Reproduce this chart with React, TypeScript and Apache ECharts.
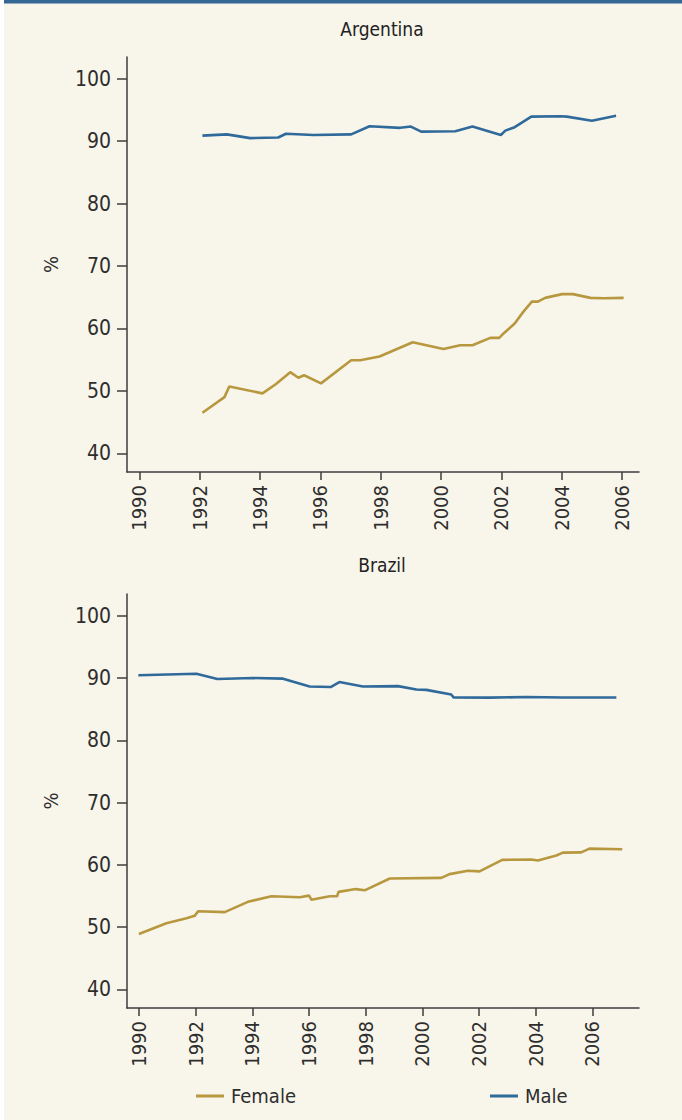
import React, { useEffect, useRef } from "react";
import * as echarts from "echarts";

// ---------- data ----------
const xTickYears = [1990, 1992, 1994, 1996, 1998, 2000, 2002, 2004, 2006];
const yTickValues = [40, 50, 60, 70, 80, 90, 100];
const panelTitles = ["Argentina", "Brazil"];
const seriesNames = ["Female", "Male"];

const argentinaFemale: [number, number][] = [
  [1992.09, 46.5], [1992.82, 49.0], [1992.98, 50.7], [1994.08, 49.6], [1994.53, 51.1],
  [1995.0, 53.0], [1995.27, 52.1], [1995.46, 52.5], [1996.02, 51.2], [1997.02, 54.9],
  [1997.32, 54.9], [1997.96, 55.5], [1999.06, 57.8], [2000.08, 56.7], [2000.63, 57.3],
  [2001.04, 57.3], [2001.63, 58.5], [2001.93, 58.5], [2002.07, 59.2], [2002.44, 60.8],
  [2002.73, 62.7], [2003.01, 64.3], [2003.21, 64.3], [2003.45, 64.9], [2004.01, 65.5],
  [2004.37, 65.5], [2004.95, 64.9], [2005.39, 64.85], [2006.05, 64.9],
];
const argentinaMale: [number, number][] = [
  [1992.09, 90.9], [1992.9, 91.1], [1993.67, 90.5], [1994.6, 90.6], [1994.86, 91.2],
  [1995.77, 91.0], [1997.02, 91.1], [1997.63, 92.4], [1998.64, 92.15], [1999.0, 92.35],
  [1999.34, 91.55], [2000.47, 91.6], [2001.04, 92.35], [2001.98, 91.0], [2002.13, 91.7],
  [2002.44, 92.25], [2002.99, 93.95], [2003.95, 94.0], [2004.17, 93.95], [2005.0, 93.27],
  [2005.8, 94.07],
];
const brazilFemale: [number, number][] = [
  [1989.99, 48.9], [1990.96, 50.6], [1991.67, 51.4], [1991.96, 51.8], [1992.08, 52.55],
  [1993.02, 52.4], [1993.84, 54.05], [1994.67, 54.95], [1995.67, 54.8], [1996.0, 55.05],
  [1996.08, 54.4], [1996.73, 54.95], [1996.99, 54.95], [1997.04, 55.65], [1997.65, 56.1],
  [1997.96, 55.9], [1998.85, 57.8], [2000.67, 57.9], [2000.96, 58.5], [2001.61, 59.05],
  [2002.02, 58.95], [2002.82, 60.8], [2003.85, 60.85], [2004.08, 60.7], [2004.73, 61.5],
  [2004.96, 61.95], [2005.61, 62.0], [2005.9, 62.6], [2007.06, 62.5],
];
const brazilMale: [number, number][] = [
  [1989.97, 90.45], [1992.02, 90.7], [1992.76, 89.85], [1994.02, 90.0], [1995.08, 89.9],
  [1996.02, 88.65], [1996.76, 88.55], [1997.07, 89.35], [1997.9, 88.65], [1999.14, 88.7],
  [1999.79, 88.15], [2000.14, 88.1], [2001.02, 87.35], [2001.1, 86.9], [2002.38, 86.85],
  [2003.67, 86.95], [2004.96, 86.88], [2006.85, 86.88],
];

const FEMALE_COLOR = "#b8983f";
const MALE_COLOR = "#2f6a9b";
const TEXT_COLOR = "#2e2e2e";
const AXIS_COLOR = "#3d3d3d";
const FONT = "'Liberation Sans Narrow', 'DejaVu Sans Condensed', 'Open Sans', sans-serif";

export default function App() {
  const ref = useRef<HTMLDivElement>(null);

  useEffect(() => {
    if (!ref.current) return;
    const chart = echarts.init(ref.current, null, { renderer: "svg" });

    const grids = [
      { left: 127, right: 43, top: 57, height: 415 },
      { left: 127, right: 43, top: 594, height: 414 },
    ];
    const xRanges = [
      [1989.59, 2006.56],
      [1989.57, 2007.65],
    ];

    const xAxes = grids.map((_, i) => ({
      type: "value",
      gridIndex: i,
      min: xRanges[i][0],
      max: xRanges[i][1],
      axisLine: { show: true, lineStyle: { color: AXIS_COLOR, width: 1.5 } },
      axisTick: {
        show: true,
        customValues: xTickYears,
        length: 8,
        lineStyle: { color: AXIS_COLOR, width: 1.5 },
      },
      axisLabel: {
        customValues: xTickYears,
        rotate: 90,
        margin: 13,
        color: TEXT_COLOR,
        fontSize: 20,
        fontFamily: FONT,
        formatter: (v: number) => String(Math.round(v)),
      },
      splitLine: { show: false },
    }));

    const yAxes = grids.map((_, i) => ({
      type: "value",
      gridIndex: i,
      min: 37,
      max: 103.5,
      name: "%",
      nameLocation: "middle",
      nameGap: 66,
      nameRotate: 90,
      nameTextStyle: { color: TEXT_COLOR, fontSize: 20, fontFamily: FONT },
      axisLine: { show: true, lineStyle: { color: AXIS_COLOR, width: 1.5 } },
      axisTick: {
        show: true,
        customValues: yTickValues,
        length: 10,
        lineStyle: { color: AXIS_COLOR, width: 1.5 },
      },
      axisLabel: {
        customValues: yTickValues,
        margin: 16,
        color: TEXT_COLOR,
        fontSize: 21,
        fontFamily: FONT,
      },
      splitLine: { show: false },
    }));

    const panels = [
      [argentinaFemale, argentinaMale],
      [brazilFemale, brazilMale],
    ];
    const series: any[] = [];
    panels.forEach((pair, i) => {
      pair.forEach((data, j) => {
        series.push({
          type: "line",
          name: seriesNames[j],
          xAxisIndex: i,
          yAxisIndex: i,
          data,
          showSymbol: false,
          symbol: "none",
          lineStyle: { width: 2.6, color: j === 0 ? FEMALE_COLOR : MALE_COLOR },
          itemStyle: { color: j === 0 ? FEMALE_COLOR : MALE_COLOR },
        });
      });
    });

    chart.setOption({
      animation: false,
      backgroundColor: "#ffffff",
      title: panelTitles.map((t, i) => ({
        text: t,
        left: 382,
        top: i === 0 ? 19 : 555,
        textAlign: "center",
        padding: 0,
        textStyle: { color: "#222222", fontSize: 19, fontWeight: "normal", fontFamily: FONT },
      })),
      graphic: [
        { type: "rect", z: -10, shape: { x: 4, y: 0, width: 678, height: 1120 }, style: { fill: "#f8f5ea" } },
        { type: "rect", z: 10, shape: { x: 4, y: 0, width: 678, height: 3.5 }, style: { fill: "#356795" } },
      ],
      legend: {
        data: seriesNames,
        left: 196,
        top: 1086,
        padding: 0,
        itemWidth: 28,
        itemHeight: 3,
        icon: "rect",
        itemGap: 194,
        textStyle: { color: TEXT_COLOR, fontSize: 20, fontFamily: FONT, padding: [0, 0, 0, 2] },
      },
      grid: grids,
      xAxis: xAxes,
      yAxis: yAxes,
      series,
    } as any);

    return () => chart.dispose();
  }, []);

  return (
    <div
      ref={ref}
      style={{ position: "absolute", left: 0, top: 0, width: 682, height: 1120 }}
    />
  );
}
